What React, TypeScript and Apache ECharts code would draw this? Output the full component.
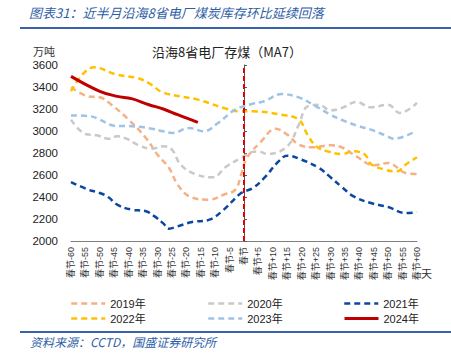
import React, { useEffect, useRef } from "react";
import * as echarts from "echarts";

const seriesNames = ["2019年", "2020年", "2021年", "2022年", "2023年", "2024年"];
const seriesColors = ["#F4B183", "#C9C9C9", "#0B47A1", "#FFC000", "#9DC3E6", "#C00000"];

const days2019 = [-60, -54, -50, -46, -40, -34, -30, -26, -23, -19, -12, -7, -3, -1, 1, 6, 11, 15, 19, 24, 30, 34, 39, 45, 50, 56, 60];
const vals2019 = [3397, 3315, 3306, 3239, 3103, 2936, 2785, 2664, 2512, 2406, 2376, 2421, 2467, 2603, 2755, 2906, 3021, 2967, 2876, 2852, 2870, 2850, 2770, 2688, 2709, 2618, 2609];

const days2020 = [-60, -55, -51, -47, -44, -40, -37, -32, -28, -25, -22, -17, -11, -6, -1, 3, 5, 8, 15, 19, 22, 26, 30, 34, 39, 44, 50, 54, 60];
const vals2020 = [3103, 2973, 2961, 2930, 2952, 2921, 2876, 2839, 2861, 2830, 2694, 2609, 2579, 2679, 2755, 2810, 2815, 2791, 2861, 3057, 3224, 3239, 3188, 3210, 3264, 3215, 3239, 3164, 3255];

const days2021 = [-60, -54, -50, -47, -44, -39, -34, -31, -28, -26, -23, -18, -12, -7, -1, 3, 7, 12, 15, 20, 26, 30, 34, 38, 44, 50, 56, 60];
const vals2021 = [2536, 2467, 2436, 2397, 2330, 2285, 2270, 2224, 2160, 2112, 2133, 2173, 2194, 2285, 2436, 2480, 2573, 2724, 2776, 2739, 2664, 2579, 2490, 2406, 2345, 2309, 2255, 2261];

const days2022 = [-60, -52, -44, -37, -33, -28, -16, -7, -2, 3, 13, 19, 22, 25, 29, 34, 38, 42, 44, 49, 53, 56, 60];
const vals2022 = [3361, 3579, 3512, 3482, 3436, 3350, 3285, 3209, 3179, 3179, 3148, 3103, 2967, 2861, 2815, 2791, 2815, 2785, 2700, 2648, 2633, 2694, 2761];

const days2023 = [-60, -53, -50, -45, -38, -32, -28, -25, -19, -14, -9, -3, 3, 7, 13, 19, 24, 30, 34, 40, 44, 49, 52, 59];
const vals2023 = [3142, 3133, 3103, 3048, 3042, 3021, 2997, 2982, 3027, 2997, 3073, 3194, 3248, 3270, 3336, 3306, 3239, 3148, 3100, 3042, 3012, 2961, 2930, 2991];

const days2024 = [-60, -50, -44, -39, -33, -28, -23, -16];
const vals2024 = [3497, 3361, 3315, 3294, 3239, 3200, 3148, 3079];

const allDays = [days2019, days2020, days2021, days2022, days2023, days2024];
const allVals = [vals2019, vals2020, vals2021, vals2022, vals2023, vals2024];

const yMin = 2000;
const yMax = 3600;
const yStep = 200;
const xMin = -60;
const xMax = 60;
const xStep = 5;

const headerText = "图表31：近半月沿海8省电厂煤炭库存环比延续回落";
const titleText = "沿海8省电厂存煤（MA7）";
const unitText = "万吨";
const xUnitText = "天";
const sourceText = "资料来源：CCTD，国盛证券研究所";

const FONT = "'Liberation Sans', Arial, 'Noto Sans CJK SC', sans-serif";
const CJK = "'Noto Sans CJK SC', sans-serif";
const BLUE = "#2E5EA6";

function dayLabel(v: number): string {
  if (v === 0) return "春节";
  if (v < 0) return "春节" + v;
  return "春节+" + v;
}

export default function App() {
  const ref = useRef<HTMLDivElement>(null);
  useEffect(() => {
    if (!ref.current) return;
    const chart = echarts.init(ref.current, undefined, { renderer: "svg" });

    const series: any[] = seriesNames.map((name, i) => {
      const isSolid = i === 5;
      const s: any = {
        name,
        type: "line",
        data: allDays[i].map((d, k) => [d, allVals[i][k]]),
        smooth: 0.4,
        symbol: "none",
        showSymbol: false,
        lineStyle: {
          color: seriesColors[i],
          width: isSolid ? 3 : 2.5,
          type: isSolid ? "solid" : [6, 4],
        },
        itemStyle: { color: seriesColors[i] },
        z: isSolid ? 5 : 3,
      };
      if (isSolid) {
        s.markLine = {
          silent: true,
          symbol: "none",
          label: { show: false },
          lineStyle: { color: "#E00000", type: [5, 3], width: 2 },
          data: [{ xAxis: 0 }],
        };
      }
      return s;
    });

    const legendPos = [
      { left: 65, top: 293 },
      { left: 202, top: 293 },
      { left: 338, top: 293 },
      { left: 65, top: 308 },
      { left: 202, top: 308 },
      { left: 338, top: 308 },
    ];

    chart.setOption({
      animation: false,
      backgroundColor: "#ffffff",
      grid: { left: 71, right: 34, top: 65, bottom: 119, containLabel: false },
      legend: seriesNames.map((n, i) => ({
        data: [n],
        left: legendPos[i].left,
        top: legendPos[i].top,
        itemWidth: 34,
        itemHeight: 14,
        itemGap: 5,
        itemStyle: { opacity: 0, borderWidth: 0 },
        lineStyle: { width: i === 5 ? 3 : 2.5 },
        textStyle: { fontSize: 11, color: "#222", fontFamily: FONT },
        selectedMode: false,
      })),
      xAxis: {
        type: "value",
        min: xMin,
        max: xMax,
        interval: xStep,
        splitLine: { show: false },
        axisLine: { show: true, lineStyle: { color: "#7F7F7F", width: 1 } },
        axisTick: { show: false },
        axisLabel: {
          rotate: 90,
          margin: 6,
          fontSize: 9,
          color: "#333",
          fontFamily: FONT,
          formatter: (v: number) => dayLabel(v),
        },
      },
      yAxis: {
        type: "value",
        min: yMin,
        max: yMax,
        interval: yStep,
        splitLine: { show: false },
        axisLine: { show: true, lineStyle: { color: "#595959", width: 1 } },
        axisTick: { show: true, inside: true, length: 3, lineStyle: { color: "#595959" } },
        axisLabel: {
          fontSize: 11.5,
          color: "#222",
          margin: 13,
          fontFamily: FONT,
          formatter: (v: number) => String(v),
        },
      },
      series,
      graphic: [
        {
          type: "text",
          left: 29,
          top: 6,
          style: {
            text: headerText,
            fontSize: 13,
            fontStyle: "italic",
            fill: BLUE,
            fontFamily: CJK,
          },
        },
        {
          type: "rect",
          shape: { x: 20, y: 27, width: 431, height: 2 },
          style: { fill: "#3A63A8" },
        },
        {
          type: "text",
          x: 227,
          y: 51,
          style: {
            text: titleText,
            fontSize: 13,
            fill: "#222",
            fontFamily: CJK,
            align: "center",
            verticalAlign: "middle",
          },
        },
        {
          type: "text",
          x: 33,
          y: 51,
          style: {
            text: unitText,
            fontSize: 11,
            fill: "#333",
            fontFamily: CJK,
            align: "left",
            verticalAlign: "middle",
          },
        },
        {
          type: "text",
          x: 421,
          y: 273,
          style: {
            text: xUnitText,
            fontSize: 11,
            fill: "#333",
            fontFamily: CJK,
            align: "left",
            verticalAlign: "middle",
          },
        },
        {
          type: "rect",
          shape: { x: 20, y: 331, width: 431, height: 2 },
          style: { fill: "#3A63A8" },
        },
        {
          type: "text",
          x: 30,
          y: 341,
          style: {
            text: sourceText,
            fontSize: 12,
            fontStyle: "italic",
            fill: BLUE,
            fontFamily: CJK,
            align: "left",
            verticalAlign: "middle",
          },
        },
      ],
    });
    return () => chart.dispose();
  }, []);
  return <div ref={ref} style={{ width: 451, height: 360, position: "absolute", left: 0, top: 0 }} />;
}
